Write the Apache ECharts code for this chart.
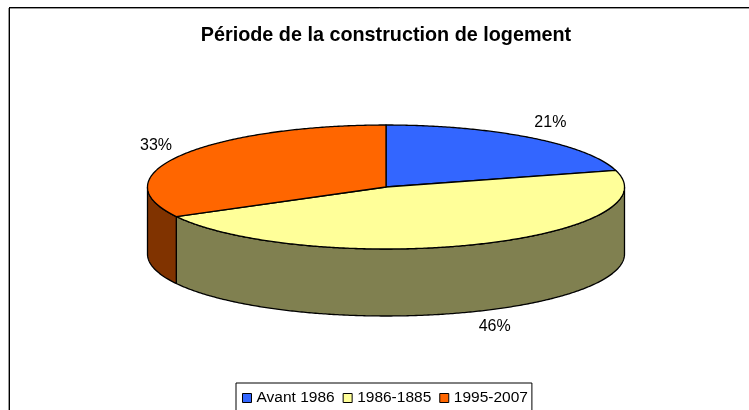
<!DOCTYPE html>
<html>
<head>
<meta charset="utf-8">
<style>html,body{margin:0;padding:0;background:#fff}#c{width:749px;height:410px}</style>
<script src="https://cdn.jsdelivr.net/npm/echarts@6/dist/echarts.min.js"></script>
</head>
<body>
<div id="c"></div>
<script>
const titleText = 'Période de la construction de logement';
const categories = ['Avant 1986', '1986-1885', '1995-2007'];
const shares = [20.7, 46.4, 32.9];
const topColors = ['#3366FF', '#FFFF99', '#FF6600'];
const sideColors = ['#1A3380', '#808050', '#803300'];

const pie = { cx: 386, cy: 187, rx: 238.5, ry: 62, depth: 67 };
const labelGap = { x: 28, y: 19, dx: [3, 9, -1], dy: [0, -3, 0] };
const font = '"Liberation Sans", Arial, sans-serif';

const chart = echarts.init(document.getElementById('c'), null, { renderer: 'canvas' });
const total = shares.reduce((a, b) => a + b, 0);

function rim(deg, drop) {
  const t = deg * Math.PI / 180;
  return [pie.cx + pie.rx * Math.sin(t), pie.cy - pie.ry * Math.cos(t) + (drop || 0)];
}
function arc(from, to, drop) {
  const pts = [];
  const n = Math.max(2, Math.ceil(Math.abs(to - from) * 2));
  for (let i = 0; i <= n; i++) pts.push(rim(from + (to - from) * i / n, drop));
  return pts;
}

let running = 0;
const series = categories.map((name, i) => {
  const start = running / total * 360;
  running += shares[i];
  const end = running / total * 360;
  return {
    type: 'custom',
    name: name,
    coordinateSystem: 'none',
    silent: true,
    animation: false,
    itemStyle: { color: topColors[i] },
    data: [[start, end, shares[i]]],
    z: 2,
    renderItem: function (params, api) {
      const a = api.value(0), b = api.value(1), v = api.value(2);
      const children = [];
      const stroke = { stroke: '#000', lineWidth: 1.3, lineJoin: 'round' };
      const sa = Math.max(a, 90), sb = Math.min(b, 270);
      if (sb > sa) {
        children.push({
          type: 'polygon',
          shape: { points: arc(sa, sb, 0).concat(arc(sb, sa, pie.depth)) },
          style: Object.assign({ fill: sideColors[i] }, stroke)
        });
      }
      children.push({
        type: 'polygon',
        shape: { points: [[pie.cx, pie.cy]].concat(arc(a, b, 0)) },
        style: Object.assign({ fill: api.visual('color') }, stroke)
      });
      const mid = (a + b) / 2, t = mid * Math.PI / 180;
      const below = (mid > 90 && mid < 270) ? pie.depth : 0;
      children.push({
        type: 'text',
        style: {
          text: Math.round(v / total * 100) + '%',
          x: pie.cx + (pie.rx + labelGap.x) * Math.sin(t) + labelGap.dx[i],
          y: pie.cy - (pie.ry + labelGap.y) * Math.cos(t) + below + labelGap.dy[i],
          fill: '#000',
          font: '16px ' + font,
          align: 'center',
          verticalAlign: 'middle'
        }
      });
      return { type: 'group', children: children };
    }
  };
});

chart.setOption({
  animation: false,
  backgroundColor: '#fff',
  title: {
    text: titleText,
    left: 381,
    top: 21,
    textAlign: 'center',
    textStyle: { fontFamily: font, fontSize: 19.8, fontWeight: 'bold', color: '#000' }
  },
  legend: {
    data: categories,
    left: 236,
    top: 383,
    orient: 'horizontal',
    icon: 'rect',
    itemWidth: 9,
    itemHeight: 9,
    itemGap: 8,
    padding: [7, 4, 20, 6],
    borderColor: '#000',
    borderWidth: 1,
    selectedMode: false,
    itemStyle: { borderColor: '#000', borderWidth: 1 },
    textStyle: { fontFamily: font, fontSize: 15.5, color: '#000', padding: [0, 0, 0, 0] }
  },
  graphic: [
    { type: 'line', silent: true, shape: { x1: 9.5, y1: 8.5, x2: 749, y2: 8.5 }, style: { stroke: '#999', lineWidth: 1 } },
    { type: 'line', silent: true, shape: { x1: 8.5, y1: 8, x2: 8.5, y2: 410 }, style: { stroke: '#999', lineWidth: 1 } },
    { type: 'line', silent: true, shape: { x1: 9, y1: 7.5, x2: 749, y2: 7.5 }, style: { stroke: '#000', lineWidth: 1 } },
    { type: 'line', silent: true, shape: { x1: 9.5, y1: 7, x2: 9.5, y2: 410 }, style: { stroke: '#000', lineWidth: 1 } }
  ],
  series: series
});
</script>
</body>
</html>
